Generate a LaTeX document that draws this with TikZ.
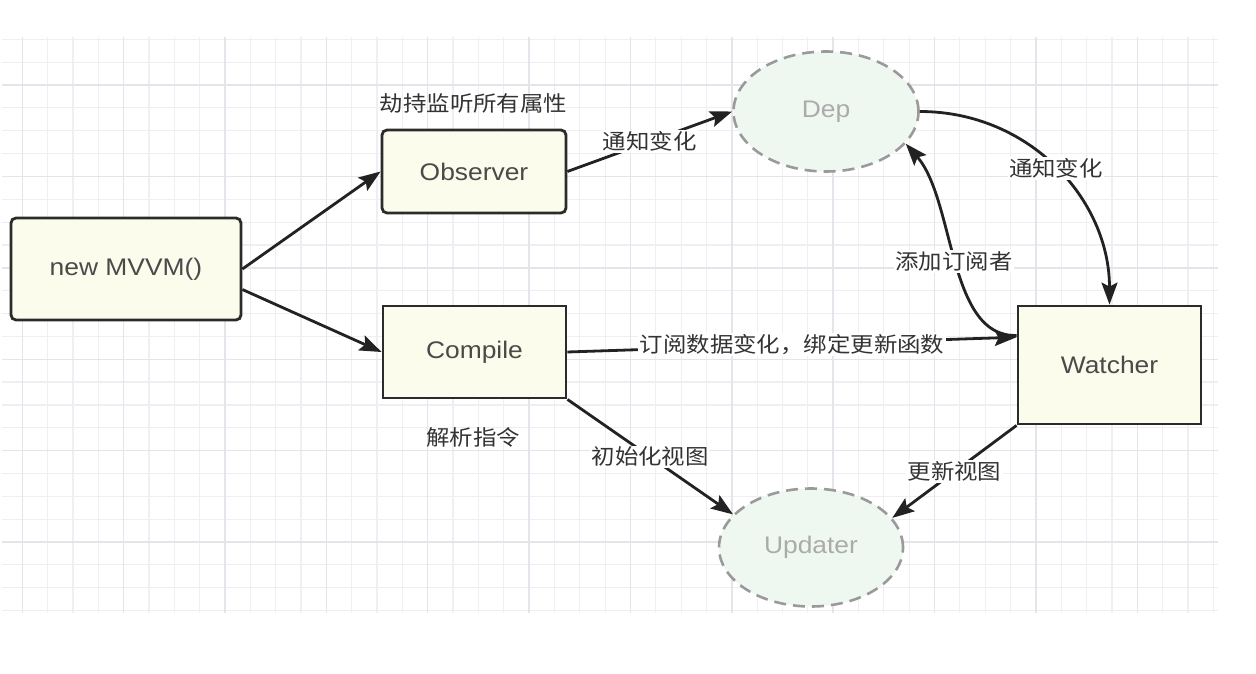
\documentclass[tikz,border=0pt]{standalone}
\usepackage{fontspec}
\setmainfont{Liberation Sans}[FakeStretch=1.1]
\newfontfamily\cjk{Noto Sans CJK SC}[FakeStretch=1.1]
\usetikzlibrary{arrows.meta,calc,shapes.geometric}
\definecolor{boxfill}{HTML}{FCFCEC}
\definecolor{boxline}{HTML}{2B2B2B}
\definecolor{boxtext}{HTML}{4A4A4A}
\definecolor{ellfill}{HTML}{EEF8F1}
\definecolor{elldash}{HTML}{9A9A9A}
\definecolor{elltext}{HTML}{ABABAB}
\definecolor{edgecol}{HTML}{222222}
\definecolor{lbltext}{HTML}{333333}
\definecolor{gridminor}{HTML}{EEEEF3}
\definecolor{gridmajor}{HTML}{E4E4EA}
\tikzset{
  mybox/.style={draw=boxline, line width=2.8pt, fill=boxfill, text=boxtext,
    font=\fontsize{24}{28}\selectfont, inner sep=0pt, minimum width=#1},
  myround/.style={mybox=#1, rounded corners=5pt},
  myell/.style={ellipse, draw=elldash, line width=2.6pt, dash pattern=on 12pt off 7pt,
    fill=ellfill, text=elltext, font=\fontsize{24}{28}\selectfont, inner sep=0pt},
  lbl/.style={font=\cjk\fontsize{21.3}{25}\selectfont, text=lbltext, inner sep=1.5pt},
  elbl/.style={lbl, fill=white},
  edge/.style={draw=edgecol, line width=2.8pt,
    -{Stealth[length=22pt, width=16pt, inset=4pt]}},
}
\begin{document}
\begin{tikzpicture}[x=1pt,y=-1pt]
\useasboundingbox (0,0) rectangle (1256,674);
\fill[white] (0,0) rectangle (1256,674);
% grid
\foreach \k in {0,...,47}{
  \pgfmathsetmacro\xx{22.3+\k*25.34}
  \draw[gridminor, line width=1.2pt] (\xx,37) -- (\xx,613);
}
\foreach \k in {-2,...,23}{
  \pgfmathsetmacro\yy{85+\k*22.85}
  \draw[gridminor, line width=1.2pt] (2,\yy) -- (1218,\yy);
}
\foreach \k in {0,4,...,44}{
  \pgfmathsetmacro\xx{22.3+\k*25.34}
  \draw[gridmajor, line width=1.4pt] (\xx,37) -- (\xx,613);
}
\foreach \k in {0,4,...,20}{
  \pgfmathsetmacro\yy{85+\k*22.85}
  \draw[gridmajor, line width=1.4pt] (2,\yy) -- (1218,\yy);
}
% nodes
\node[myround=230pt, minimum height=102pt] (mvvm) at (126,269) {new MVVM()};
\node[myround=184pt, minimum height=83pt] (obs) at (474,171.5) {Observer};
\node[mybox=183pt, minimum height=92pt] (comp) at (474.5,352) {Compile};
\node[mybox=183pt, minimum height=118pt] (wat) at (1109.5,365) {Watcher};
\node[myell, minimum width=185pt, minimum height=120pt] (dep) at (826,111.5) {Dep};
\node[myell, minimum width=184pt, minimum height=118pt] (upd) at (811,547.5) {Updater};
% free labels
\node[lbl] (hijack) at (473.5,103) {劫持监听所有属性};
\node[lbl] (parse) at (473,437) {解析指令};
% edge end points
\coordinate (watA) at ($(wat.north west)!0.255!(wat.south west)$);
\coordinate (watB) at ($(wat.north west)!0.27!(wat.south west)$);
% edges
\draw[edge] (mvvm.east) -- (obs.west);
\draw[edge] (mvvm.-10) -- (comp.west);
\draw[edge] (obs.east) -- node[elbl] {通知变化} (dep.west);
\draw[edge] (dep.east) .. controls (1030,111.5) and (1109.5,200) .. node[elbl] {通知变化} (wat.north);
\draw[edge] (watA) .. controls (948,338) and (955,200) .. node[elbl] {添加订阅者} (dep.-22);
\draw[edge] (comp.east) -- node[elbl] {订阅数据变化，绑定更新函数} (watB);
\draw[edge] (comp.south east) -- node[elbl] {初始化视图} (upd.157);
\draw[edge] (wat.south west) -- node[elbl] {更新视图} (upd.20);
\end{tikzpicture}
\end{document}
